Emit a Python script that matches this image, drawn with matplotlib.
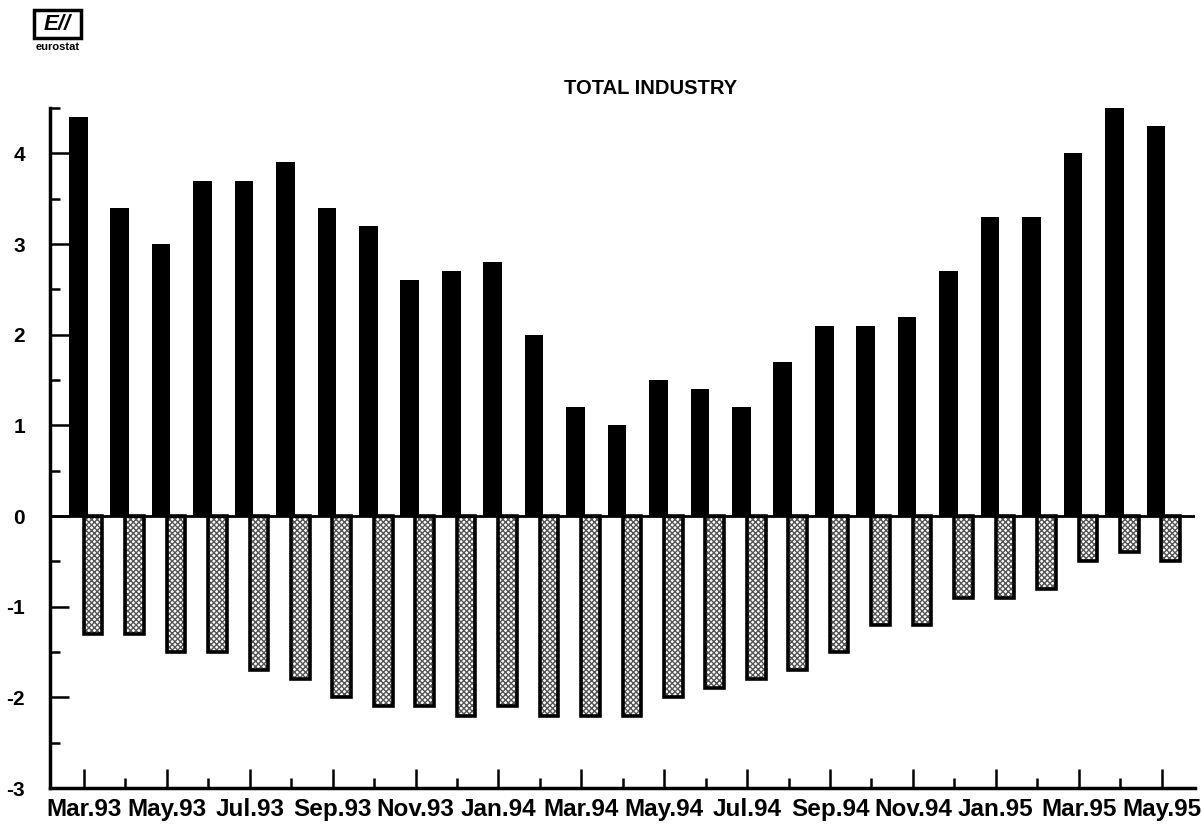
import matplotlib.pyplot as plt
import matplotlib.patches as mpatches
import numpy as np

plt.rcParams['font.family'] = ['Liberation Sans', 'DejaVu Sans']
plt.rcParams['font.weight'] = 'bold'
plt.rcParams['hatch.linewidth'] = 1.0

months = ['Mar.93', 'Apr.93', 'May.93', 'Jun.93', 'Jul.93', 'Aug.93', 'Sep.93',
          'Oct.93', 'Nov.93', 'Dec.93', 'Jan.94', 'Feb.94', 'Mar.94', 'Apr.94',
          'May.94', 'Jun.94', 'Jul.94', 'Aug.94', 'Sep.94', 'Oct.94', 'Nov.94',
          'Dec.94', 'Jan.95', 'Feb.95', 'Mar.95', 'Apr.95', 'May.95']
positive = [4.4, 3.4, 3.0, 3.7, 3.7, 3.9, 3.4, 3.2, 2.6, 2.7, 2.8, 2.0, 1.2, 1.0,
            1.5, 1.4, 1.2, 1.7, 2.1, 2.1, 2.2, 2.7, 3.3, 3.3, 4.0, 4.5, 4.3]
negative = [-1.3, -1.3, -1.5, -1.5, -1.7, -1.8, -2.0, -2.1, -2.1, -2.2, -2.1, -2.2,
            -2.2, -2.2, -2.0, -1.9, -1.8, -1.7, -1.5, -1.2, -1.2, -0.9, -0.9, -0.8,
            -0.5, -0.4, -0.5]

x = np.arange(len(months))
w = 0.45

fig = plt.figure(figsize=(12.02, 8.31), dpi=100)
ax = fig.add_axes([0.0416, 0.0517, 0.9524, 0.8183])

ax.bar(x - 0.14, positive, width=w, color='black', zorder=2)
# hatched negatives: grey hatch, then black outline on top
ax.bar(x + 0.22, negative, width=w, color='white', edgecolor='#555555',
       hatch='xxxxxx', linewidth=0, zorder=3)
ax.bar(x + 0.22, negative, width=w, fill=False, edgecolor='black',
       linewidth=2.6, zorder=4)

ax.axhline(0, color='black', lw=2, zorder=5)

ax.set_xlim(-0.82, 26.8)
ax.set_ylim(-3, 4.5)

ax.set_xticks(x[::2])
ax.set_xticklabels(months[::2], fontsize=17.5, fontweight='bold')
ax.set_xticks(x[1::2], minor=True)
ax.set_yticks(range(-3, 5))
ax.set_yticklabels([str(v) for v in range(-3, 5)], fontsize=15, fontweight='bold')
ax.set_yticks(np.arange(-2.5, 4.6, 1), minor=True)

ax.tick_params(axis='x', which='major', direction='in', length=14, width=1.8, pad=7)
ax.tick_params(axis='x', which='minor', direction='in', length=7, width=1.8)
ax.tick_params(axis='y', which='major', direction='in', length=14, width=1.8, pad=18)
ax.tick_params(axis='y', which='minor', direction='in', length=7, width=1.8)

for s in ['top', 'right']:
    ax.spines[s].set_visible(False)
for s in ['left', 'bottom']:
    ax.spines[s].set_linewidth(2.5)

fig.text(0.541, 0.893, 'TOTAL INDUSTRY', ha='center', va='center',
         fontsize=14.5, fontweight='bold')

# eurostat logo
fig.patches.append(mpatches.Rectangle((0.0283, 0.9542), 0.039, 0.0337,
                                      transform=fig.transFigure, fill=False,
                                      lw=2.5, edgecolor='black'))
fig.text(0.0478, 0.971, 'E//', ha='center', va='center', fontsize=16,
         fontweight='bold', style='italic')
fig.text(0.0478, 0.943, 'eurostat', ha='center', va='center', fontsize=8,
         fontweight='bold')

fig.savefig('out.png', dpi=100)
